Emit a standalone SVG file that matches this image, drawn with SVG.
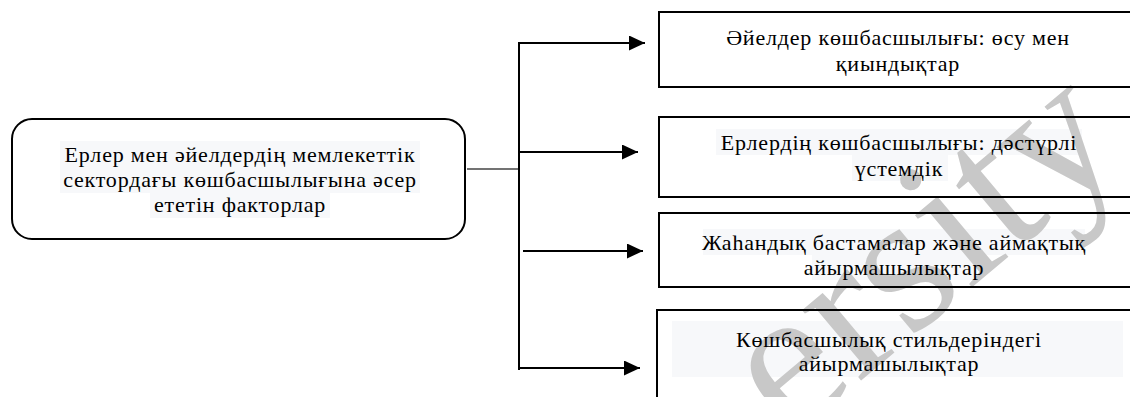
<svg xmlns="http://www.w3.org/2000/svg" width="1130" height="397" viewBox="0 0 1130 397">
  <defs>
    <marker id="arr" markerUnits="userSpaceOnUse" markerWidth="16" markerHeight="16" refX="16" refY="7.5" orient="auto">
      <path d="M0,0 L16,7.5 L0,15 Z" fill="#000"/>
    </marker>
  </defs>
  <rect width="1130" height="397" fill="#fff"/>

  <g id="highlights" fill="#f7f8fa">
    <rect x="60" y="141" width="360" height="26"/>
    <rect x="60" y="167" width="360" height="26"/>
    <rect x="150" y="193" width="180" height="25"/>
    <rect x="716" y="129" width="366" height="26"/>
    <rect x="852" y="155" width="96" height="26"/>
    <rect x="703" y="229" width="382" height="26"/>
    <rect x="812" y="255" width="164" height="25"/>
    <rect x="672" y="321" width="451" height="56"/>
  </g>

  <text font-family="Liberation Serif" font-size="200" fill="#c8c8c8" transform="translate(790,440) rotate(-40)">ersity</text>

  <g id="connectors" stroke="#000" stroke-width="2" fill="none">
    <line x1="467" y1="169" x2="519" y2="169" stroke="#444" stroke-width="1.5"/>
    <line x1="519" y1="42" x2="519" y2="370"/>
    <line x1="518" y1="43" x2="645" y2="43" marker-end="url(#arr)"/>
    <line x1="519" y1="152" x2="638" y2="152" marker-end="url(#arr)"/>
    <line x1="523" y1="251" x2="643" y2="251" marker-end="url(#arr)"/>
    <line x1="518" y1="368" x2="640" y2="368" marker-end="url(#arr)"/>
  </g>

  <g id="node-main">
    <rect x="12" y="119" width="453" height="120" rx="20" fill="none" stroke="#000" stroke-width="2"/>
    <text x="240" y="162" font-family="Liberation Serif" font-size="22" letter-spacing="0.8" fill="#000" text-anchor="middle">Ерлер мен әйелдердің мемлекеттік</text>
    <text x="240" y="187" font-family="Liberation Serif" font-size="22" letter-spacing="0.8" fill="#000" text-anchor="middle">сектордағы көшбасшылығына әсер</text>
    <text x="240" y="212" font-family="Liberation Serif" font-size="22" letter-spacing="0.8" fill="#000" text-anchor="middle">ететін факторлар</text>
  </g>

  <g id="node-1">
    <rect x="659" y="12" width="480" height="75" fill="none" stroke="#000" stroke-width="2"/>
    <text x="898" y="45" font-family="Liberation Serif" font-size="22" letter-spacing="0.8" fill="#000" text-anchor="middle">Әйелдер көшбасшылығы: өсу мен</text>
    <text x="898" y="71" font-family="Liberation Serif" font-size="22" letter-spacing="0.8" fill="#000" text-anchor="middle">қиындықтар</text>
  </g>

  <g id="node-2">
    <rect x="659" y="117" width="480" height="80" fill="none" stroke="#000" stroke-width="2"/>
    <text x="899" y="150" font-family="Liberation Serif" font-size="22" letter-spacing="0.8" fill="#000" text-anchor="middle">Ерлердің көшбасшылығы: дәстүрлі</text>
    <text x="899" y="176" font-family="Liberation Serif" font-size="22" letter-spacing="0.8" fill="#000" text-anchor="middle">үстемдік</text>
  </g>

  <g id="node-3">
    <rect x="659" y="213" width="480" height="74" fill="none" stroke="#000" stroke-width="2"/>
    <text x="894" y="250" font-family="Liberation Serif" font-size="22" letter-spacing="0.8" fill="#000" text-anchor="middle">Жаһандық бастамалар және аймақтық</text>
    <text x="894" y="275" font-family="Liberation Serif" font-size="22" letter-spacing="0.8" fill="#000" text-anchor="middle">айырмашылықтар</text>
  </g>

  <g id="node-4">
    <rect x="657" y="310" width="480" height="100" fill="none" stroke="#000" stroke-width="2"/>
    <text x="889" y="347" font-family="Liberation Serif" font-size="22" letter-spacing="0.8" fill="#000" text-anchor="middle">Көшбасшылық стильдеріндегі</text>
    <text x="889" y="371" font-family="Liberation Serif" font-size="22" letter-spacing="0.8" fill="#000" text-anchor="middle">айырмашылықтар</text>
  </g>
</svg>
